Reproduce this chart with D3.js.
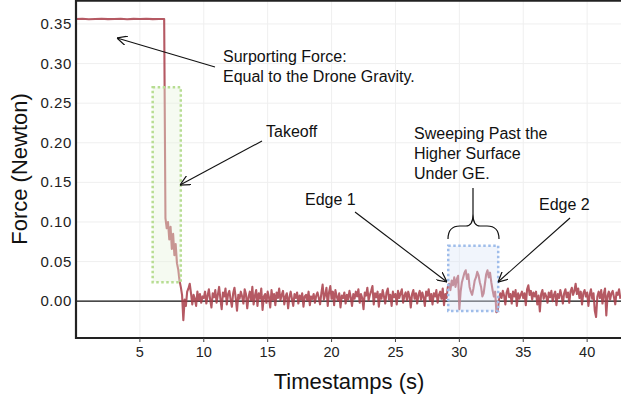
<!DOCTYPE html>
<html>
<head>
<meta charset="utf-8">
<script src="https://cdn.jsdelivr.net/npm/d3@7/dist/d3.min.js"></script>
<style>
  body { margin: 0; background: #fff; }
  svg { display: block; font-family: "Liberation Sans", Arial, sans-serif; }
</style>
</head>
<body>
<svg id="chart" width="621" height="397"></svg>
<script>
// Hover phase (drone resting on the sensor)
const hoverTime  = [0, 0.5, 1, 1.5, 2, 2.5, 3, 3.5, 4, 4.5, 5, 5.5, 6, 6.5, 6.9];
const hoverForce = [0.3562, 0.3565, 0.3560, 0.3563, 0.3566, 0.3561, 0.3563, 0.3565, 0.3560, 0.3564, 0.3562, 0.3565, 0.3561, 0.3563, 0.3562];

// Flight phase, sampled every 0.1 s from 7.0 s (one row per second)
const flightStart = 7.0;
const flightStep = 0.1;
const flightForce = [
  0.105, 0.092, 0.100, 0.078, 0.094, 0.066, 0.085, 0.058, 0.072, 0.048,
  0.040, 0.026, 0.018, 0.008, -0.024, 0.002, -0.006, 0.012, 0.016, 0.022,
  0.010, -0.004, 0.008, 0.003, -0.006, 0.012, 0.001, 0.009, -0.002, 0.006,
  0.004, 0.012, -0.003, 0.007, 0.015, 0.002, -0.008, 0.010, 0.005, 0.014,
  -0.002, 0.008, 0.018, 0.003, -0.010, 0.011, 0.006, 0.016, -0.004, 0.009,
  0.013, 0.002, -0.007, 0.010, 0.017, 0.004, -0.012, 0.008, 0.003, 0.012,
  0.006, -0.003, 0.015, 0.009, -0.009, 0.005, 0.012, 0.001, 0.018, -0.004,
  0.007, 0.014, -0.006, 0.010, 0.003, 0.016, -0.011, 0.006, 0.009, -0.002,
  0.012, 0.005, -0.008, 0.014, 0.002, 0.009, -0.005, 0.011, 0.004, 0.016,
  0.001, 0.008, 0.013, -0.004, 0.006, 0.010, -0.009, 0.005, 0.012, 0.003,
  -0.006, 0.009, 0.004, 0.011, -0.003, 0.007, 0.002, 0.010, -0.007, 0.006,
  0.008, 0.001, 0.012, -0.005, 0.006, 0.003, 0.009, -0.002, 0.007, 0.011,
  0.004, -0.004, 0.010, 0.021, 0.002, 0.008, 0.017, -0.006, 0.011, 0.019,
  0.003, 0.012, -0.005, 0.014, 0.006, 0.001, 0.010, -0.008, 0.007, 0.004,
  0.011, -0.003, 0.008, 0.002, 0.013, 0.005, -0.006, 0.009, 0.003, 0.012,
  0.006, 0.015, -0.002, 0.009, 0.004, -0.010, 0.011, 0.007, 0.017, 0.001,
  0.008, 0.013, 0.019, -0.004, 0.010, 0.005, 0.012, -0.007, 0.009, 0.003,
  0.014, 0.006, -0.003, 0.011, 0.016, 0.002, 0.008, -0.006, 0.012, 0.005,
  0.009, -0.004, 0.013, 0.004, 0.010, 0.015, -0.002, 0.007, 0.011, 0.001,
  0.012, 0.006, -0.008, 0.009, 0.014, 0.003, 0.010, -0.003, 0.008, 0.013,
  0.002, 0.011, 0.005, -0.006, 0.012, 0.007, 0.015, 0.001, 0.009, -0.004,
  0.010, 0.006, 0.014, -0.002, 0.008, 0.012, 0.003, 0.016, -0.005, 0.009,
  0.004, 0.018, 0.022, 0.014, 0.026, 0.020, 0.030, 0.018, 0.028, 0.032,
  -0.010, 0.012, 0.024, 0.030, 0.036, 0.039, 0.028, 0.034, 0.018, 0.012,
  0.008, 0.016, 0.026, 0.030, 0.037, 0.033, 0.024, 0.018, 0.006, 0.010,
  0.022, 0.034, 0.039, 0.030, 0.036, 0.024, 0.014, 0.006, 0.012, -0.014,
  -0.012, 0.002, 0.010, 0.004, 0.013, 0.007, -0.004, 0.011, 0.016, 0.005,
  0.009, -0.003, 0.012, 0.006, 0.014, -0.006, 0.010, 0.003, 0.008, 0.012,
  0.004, 0.010, -0.005, 0.015, 0.020, 0.008, 0.013, 0.002, 0.011, 0.006,
  0.012, -0.004, 0.007, -0.013, 0.009, 0.014, 0.003, 0.010, 0.006, -0.002,
  0.011, 0.005, 0.013, 0.000, 0.008, 0.012, -0.005, 0.009, 0.004, 0.014,
  0.007, -0.003, 0.010, 0.015, 0.005, 0.011, -0.002, 0.012, 0.017, 0.008,
  0.013, 0.022, 0.009, 0.016, 0.004, 0.012, -0.004, 0.010, 0.014, 0.006,
  0.011, -0.006, 0.008, 0.015, 0.003, 0.010, -0.012, -0.020, 0.006, 0.012,
  0.004, 0.014, -0.003, 0.009, 0.016, -0.018, 0.007, 0.012, 0.002, 0.010,
  0.013, 0.005, -0.004, 0.011, 0.008, 0.015, 0.003
];

const xTicks = [5, 10, 15, 20, 25, 30, 35, 40];
const yTicks = [0.00, 0.05, 0.10, 0.15, 0.20, 0.25, 0.30, 0.35];

// Highlighted regions [t0, t1, f0, f1]
const takeoffBox = [6.0, 8.2, 0.024, 0.27];
const sweepBox   = [29.13, 33.04, -0.0125, 0.07];

let data = hoverTime.map((t, i) => ({t: t, f: hoverForce[i]}));
flightForce.forEach((f, i) => data.push({t: flightStart + i * flightStep, f: f}));

const svg = d3.select("#chart");
const plotLeft = 76, plotRight = 621, plotTop = 1, plotBottom = 338;

const x = d3.scaleLinear().domain([0, 42.65]).range([plotLeft, plotRight]);
const y = d3.scaleLinear().domain([-0.0465, 0.3790]).range([plotBottom, plotTop]);

// grid
svg.append("g").selectAll("line")
  .data(xTicks).enter().append("line")
  .attr("x1", d => x(d)).attr("x2", d => x(d))
  .attr("y1", plotTop).attr("y2", plotBottom)
  .attr("stroke", "#efefef").attr("stroke-width", 1);
svg.append("g").selectAll("line")
  .data(yTicks).enter().append("line")
  .attr("x1", plotLeft).attr("x2", plotRight)
  .attr("y1", d => y(d)).attr("y2", d => y(d))
  .attr("stroke", "#efefef").attr("stroke-width", 1);

// zero line
svg.append("line")
  .attr("x1", plotLeft).attr("x2", plotRight)
  .attr("y1", y(0)).attr("y2", y(0))
  .attr("stroke", "#111").attr("stroke-width", 1.3);

// force trace
let line = d3.line().x(d => x(d.t)).y(d => y(d.f));
svg.append("path")
  .datum(data)
  .attr("d", line)
  .attr("fill", "none")
  .attr("stroke", "#a83c48")
  .attr("stroke-opacity", 0.85)
  .attr("stroke-width", 2.1)
  .attr("stroke-linejoin", "round");

// highlight boxes
let drawBox = function(b, fill, stroke) {
  svg.append("rect")
    .attr("x", x(b[0])).attr("y", y(b[3]))
    .attr("width", x(b[1]) - x(b[0]))
    .attr("height", y(b[2]) - y(b[3]))
    .attr("fill", fill).attr("fill-opacity", 0.4)
    .attr("stroke", stroke).attr("stroke-width", 2.5)
    .attr("stroke-dasharray", "2.5,2.5");
};
drawBox(takeoffBox, "#e6f2db", "#b7dd92");
drawBox(sweepBox, "#dce7f8", "#9fbdea");

// axes frame
svg.append("line").attr("x1", plotLeft).attr("x2", plotLeft).attr("y1", 0).attr("y2", plotBottom + 1)
  .attr("stroke", "#222").attr("stroke-width", 2.2);
svg.append("line").attr("x1", plotLeft).attr("x2", plotRight).attr("y1", plotBottom).attr("y2", plotBottom)
  .attr("stroke", "#222").attr("stroke-width", 2.2);
svg.append("line").attr("x1", plotLeft).attr("x2", plotRight).attr("y1", 0.8).attr("y2", 0.8)
  .attr("stroke", "#222").attr("stroke-width", 2);

// x ticks
let xAxis = svg.append("g");
xAxis.selectAll("line").data(xTicks).enter().append("line")
  .attr("x1", d => x(d)).attr("x2", d => x(d))
  .attr("y1", plotBottom).attr("y2", plotBottom + 4)
  .attr("stroke", "#444").attr("stroke-width", 1);
xAxis.selectAll("text").data(xTicks).enter().append("text")
  .attr("x", d => x(d)).attr("y", 357)
  .attr("text-anchor", "middle")
  .attr("font-size", 14.5).attr("fill", "#222")
  .text(d => d);

// y ticks
svg.append("g").selectAll("text").data(yTicks).enter().append("text")
  .attr("x", 72).attr("y", d => y(d) + 5)
  .attr("text-anchor", "end")
  .attr("font-size", 15).attr("letter-spacing", 0.6).attr("fill", "#222")
  .text(d => d.toFixed(2));

// axis titles
svg.append("text")
  .attr("x", 349).attr("y", 389)
  .attr("text-anchor", "middle")
  .attr("font-size", 22).attr("fill", "#111")
  .text("Timestamps (s)");
svg.append("text")
  .attr("transform", "translate(27,169) rotate(-90)")
  .attr("text-anchor", "middle")
  .attr("font-size", 22).attr("fill", "#111")
  .text("Force (Newton)");

// annotations
svg.append("defs").append("marker")
  .attr("id", "arrow")
  .attr("viewBox", "0 0 10 10")
  .attr("refX", 10).attr("refY", 5)
  .attr("markerWidth", 10).attr("markerHeight", 10)
  .attr("markerUnits", "userSpaceOnUse")
  .attr("orient", "auto")
  .append("path")
  .attr("d", "M0,0 L10,5 L0,10")
  .attr("fill", "none").attr("stroke", "#111").attr("stroke-width", 1.2);

const arrows = [
  [215, 67, 117, 38],
  [262, 141, 180, 185],
  [355, 212, 447, 282],
  [570, 218, 498, 282]
];
svg.append("g").selectAll("line").data(arrows).enter().append("line")
  .attr("x1", d => d[0]).attr("y1", d => d[1])
  .attr("x2", d => d[2]).attr("y2", d => d[3])
  .attr("stroke", "#111").attr("stroke-width", 1.1)
  .attr("marker-end", "url(#arrow)");

// curly brace above the sweep box
svg.append("path")
  .attr("d", "M448,239 Q448,226 460,226 L466,226 Q473,226 473,214 Q473,226 480,226 L487,226 Q499,226 499,239 M473,214 L473,188")
  .attr("fill", "none").attr("stroke", "#111").attr("stroke-width", 1.2);

const labels = [
  {x: 223, y: 62, lines: ["Surporting Force:", "Equal to the Drone Gravity."]},
  {x: 266, y: 137, lines: ["Takeoff"]},
  {x: 414, y: 139, lines: ["Sweeping Past the", "Higher Surface", "Under GE."]},
  {x: 305, y: 205, lines: ["Edge 1"]},
  {x: 539, y: 210, lines: ["Edge 2"]}
];
labels.forEach(function(l) {
  let t = svg.append("text")
    .attr("x", l.x).attr("y", l.y)
    .attr("font-size", 16).attr("fill", "#111");
  l.lines.forEach(function(s, i) {
    t.append("tspan").attr("x", l.x).attr("dy", i == 0 ? 0 : 20).text(s);
  });
});
</script>
</body>
</html>
